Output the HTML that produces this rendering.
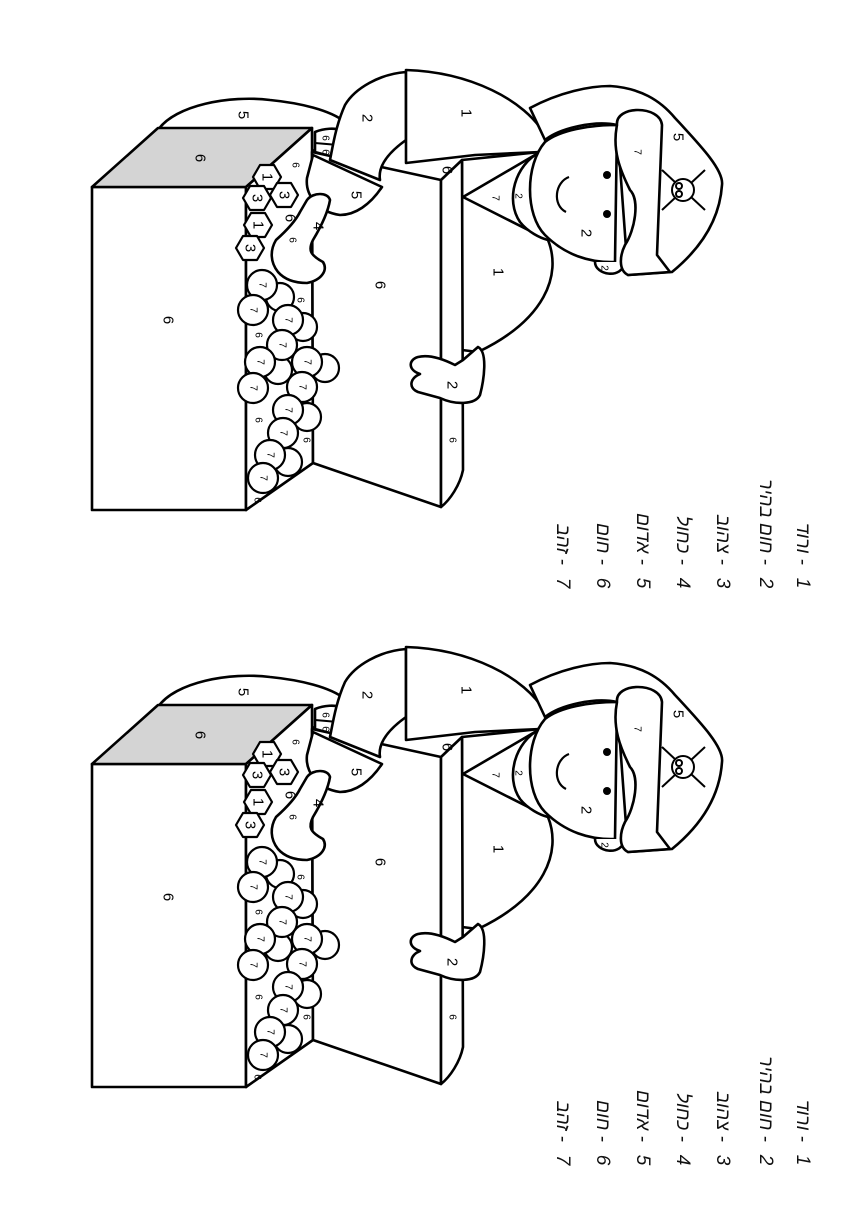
<!DOCTYPE html>
<html><head><meta charset="utf-8"><style>
html,body{margin:0;padding:0;background:#fff}
svg{display:block}
.s{fill:#fff;stroke:#000;stroke-width:2.6;stroke-linejoin:round}
.t{font-family:"Liberation Sans",sans-serif;font-size:15px;fill:#000;text-anchor:middle;dominant-baseline:central}
.m{font-size:10px}
.h{font-family:"Liberation Sans","Noto Sans CJK JP",sans-serif;font-size:19px;font-style:italic;fill:#111;text-anchor:end}
.n{font-family:"Liberation Sans",sans-serif;font-size:19px;font-style:italic;fill:#111;text-anchor:middle}
</style></head><body>
<svg width="864" height="1228" viewBox="0 0 864 1228" xmlns="http://www.w3.org/2000/svg">
<defs>
<g id="pg">
<path class="s" d="M158,130 C175,105 230,95 270,100 C300,103 330,110 345,122 L340,160 L312,150 Z"/>
<rect class="s" x="92" y="187" width="154" height="323"/>
<polygon class="s" style="fill:#d4d4d4" points="92,187 158,128 312,128 246,187"/>
<polygon class="s" points="246,187 312,128 313,463 246,510"/>
<path class="s" d="M315,132 C325,128 335,128 340,130 L337,158 L315,152 Z"/>
<line x1="315" y1="143" x2="338" y2="145" stroke="#000" stroke-width="2"/>
<!-- lid -->
<polygon class="s" points="312,152 441,180 441,507 313,463"/>
<!-- coins back -->
<g class="s" style="stroke-width:2.2">
<circle cx="280" cy="297" r="14"/><circle cx="303" cy="327" r="14"/><circle cx="278" cy="370" r="14"/><circle cx="325" cy="368" r="14"/><circle cx="307" cy="417" r="14"/><circle cx="288" cy="462" r="14"/>
<circle cx="262" cy="285" r="15"/><circle cx="253" cy="310" r="15"/><circle cx="288" cy="320" r="15"/><circle cx="282" cy="345" r="15"/><circle cx="260" cy="362" r="15"/><circle cx="307" cy="362" r="15"/><circle cx="253" cy="388" r="15"/><circle cx="302" cy="387" r="15"/><circle cx="288" cy="410" r="15"/><circle cx="283" cy="433" r="15"/><circle cx="270" cy="455" r="15"/><circle cx="263" cy="478" r="15"/>
</g>
<g class="s" style="stroke-width:2.2">
<polygon points="281,177 274,189 260,189 253,177 260,165 274,165"/>
<polygon points="298,195 291,207 277,207 270,195 277,183 291,183"/>
<polygon points="271,198 264,210 250,210 243,198 250,186 264,186"/>
<polygon points="272,225 265,237 251,237 244,225 251,213 265,213"/>
<polygon points="264,248 257,260 243,260 236,248 243,236 257,236"/>
</g>
<!-- upper arm 2 -->
<path class="s" d="M406,72 C380,74 355,88 345,105 C336,125 333,145 330,160 L380,180 C378,168 385,155 406,140 Z"/>
<!-- cuff 5 -->
<path class="s" d="M313,155 L382,187 C370,205 355,215 340,215 C318,212 305,195 307,178 Z"/>
<!-- hand 4 -->
<path class="s" d="M307,200 C313,192 328,192 330,200 C328,212 322,225 313,240 C308,250 310,255 323,262 C328,270 322,280 307,283 C295,283 285,280 278,272 C270,262 270,250 276,240 C285,232 295,222 300,212 Z"/>
<!-- shirt body -->
<path class="s" d="M462,160 L540,152 L548,240 C562,275 545,320 478,352 L462,350 Z"/>
<polygon class="s" points="463,197 540,152 548,240"/>
<path class="s" d="M540,152 C515,165 505,200 520,222 C528,232 540,238 548,240"/>
<path class="s" d="M441,180 L462,160 L463,470 C460,485 450,500 441,507 Z"/>
<path class="s" d="M406,70 C470,72 525,100 545,135 C548,145 545,150 540,152 L475,155 L406,163 Z"/>
<!-- hat back -->
<path class="s" d="M530,108 C560,92 590,86 610,86 C640,88 660,100 675,118 C700,145 724,170 722,185 C720,215 705,245 672,272 L628,275 L617,125 C595,120 560,128 545,140 Z"/>
<!-- face -->
<path class="s" d="M617,125 C590,125 560,130 545,142 C525,165 525,215 545,235 C565,255 590,263 615,262 Z"/>
<path class="s" d="M595,262 C595,275 622,280 625,262"/>
<!-- brim -->
<path class="s" d="M617,125 C615,105 660,105 662,125 L657,255 L670,272 L628,275 C618,270 620,255 625,245 C635,230 640,200 630,190 C620,170 612,150 617,125 Z"/>
<circle cx="607" cy="175" r="4"/><circle cx="607" cy="214" r="4"/>
<path d="M569,177 C555,182 552,205 566,212" fill="none" stroke="#000" stroke-width="2.2"/>
<g fill="none" stroke="#000" stroke-width="2">
<line x1="662" y1="170" x2="705" y2="210"/><line x1="662" y1="210" x2="705" y2="170"/>
<circle cx="683" cy="190" r="11" fill="#fff"/>
<circle cx="679" cy="186" r="3"/><circle cx="679" cy="194" r="3"/>
</g>
<path class="s" d="M463,360 L478,347 C488,352 484,380 480,395 C475,405 455,405 440,398 L418,392 C408,388 410,378 420,374 C408,370 408,360 418,357 C430,354 445,360 455,365 Z"/>
<g class="t">
<text transform="translate(243,115) rotate(90)">5</text>
<text transform="translate(200,158) rotate(90)">6</text>
<text transform="translate(168,320) rotate(90)">6</text>
<text transform="translate(380,285) rotate(90)">6</text>
<text transform="translate(367,118) rotate(90)">2</text>
<text transform="translate(466,113) rotate(90)">1</text>
<text transform="translate(356,195) rotate(90)">5</text>
<text transform="translate(318,226) rotate(90)">4</text>
<text transform="translate(447,170) rotate(90)">6</text>
<text transform="translate(498,272) rotate(90)">1</text>
<text transform="translate(452,385) rotate(90)">2</text>
<text transform="translate(586,233) rotate(90)">2</text>
<text transform="translate(678,137) rotate(90)">5</text>
<text transform="translate(267,177) rotate(90)">1</text>
<text transform="translate(284,195) rotate(90)">3</text>
<text transform="translate(257,198) rotate(90)">3</text>
<text transform="translate(258,225) rotate(90)">1</text>
<text transform="translate(250,248) rotate(90)">3</text>
<text transform="translate(290,218) rotate(90)">6</text>
</g>
<g class="t m">
<text transform="translate(452,440) rotate(90)">6</text>
<text transform="translate(637,152) rotate(90)">7</text>
<text transform="translate(495,198) rotate(90)">7</text>
<text transform="translate(518,196) rotate(90)">2</text>
<text transform="translate(604,268) rotate(90)">2</text>
<text transform="translate(325,138) rotate(90)">6</text>
<text transform="translate(325,152) rotate(90)">6</text>
<text transform="translate(295,165) rotate(90)">6</text>
<text transform="translate(292,240) rotate(90)">6</text>
<text transform="translate(300,300) rotate(90)">6</text>
<text transform="translate(258,335) rotate(90)">6</text>
<text transform="translate(258,420) rotate(90)">6</text>
<text transform="translate(257,500) rotate(90)">6</text>
<text transform="translate(306,440) rotate(90)">6</text>
<text transform="translate(262,285) rotate(90)">7</text><text transform="translate(253,310) rotate(90)">7</text><text transform="translate(288,320) rotate(90)">7</text><text transform="translate(282,345) rotate(90)">7</text><text transform="translate(260,362) rotate(90)">7</text><text transform="translate(307,362) rotate(90)">7</text><text transform="translate(253,388) rotate(90)">7</text><text transform="translate(302,387) rotate(90)">7</text><text transform="translate(288,410) rotate(90)">7</text><text transform="translate(283,433) rotate(90)">7</text><text transform="translate(270,455) rotate(90)">7</text><text transform="translate(263,478) rotate(90)">7</text>
</g>
<g class="h">
<text transform="translate(797,565) rotate(90)">ורוד -</text>
<text transform="translate(760,565) rotate(90)">חום בהיר -</text>
<text transform="translate(717,565) rotate(90)">צהוב -</text>
<text transform="translate(677,565) rotate(90)">כחול -</text>
<text transform="translate(637,565) rotate(90)">אדום -</text>
<text transform="translate(597,565) rotate(90)">חום -</text>
<text transform="translate(557,565) rotate(90)">זהב -</text>
</g>
<g class="n">
<text transform="translate(797,583) rotate(90)">1</text>
<text transform="translate(760,583) rotate(90)">2</text>
<text transform="translate(717,583) rotate(90)">3</text>
<text transform="translate(677,583) rotate(90)">4</text>
<text transform="translate(637,583) rotate(90)">5</text>
<text transform="translate(597,583) rotate(90)">6</text>
<text transform="translate(557,583) rotate(90)">7</text>
</g>
</g>
</defs>
<use href="#pg"/>
<use href="#pg" transform="translate(0,577)"/>
</svg>
</body></html>
